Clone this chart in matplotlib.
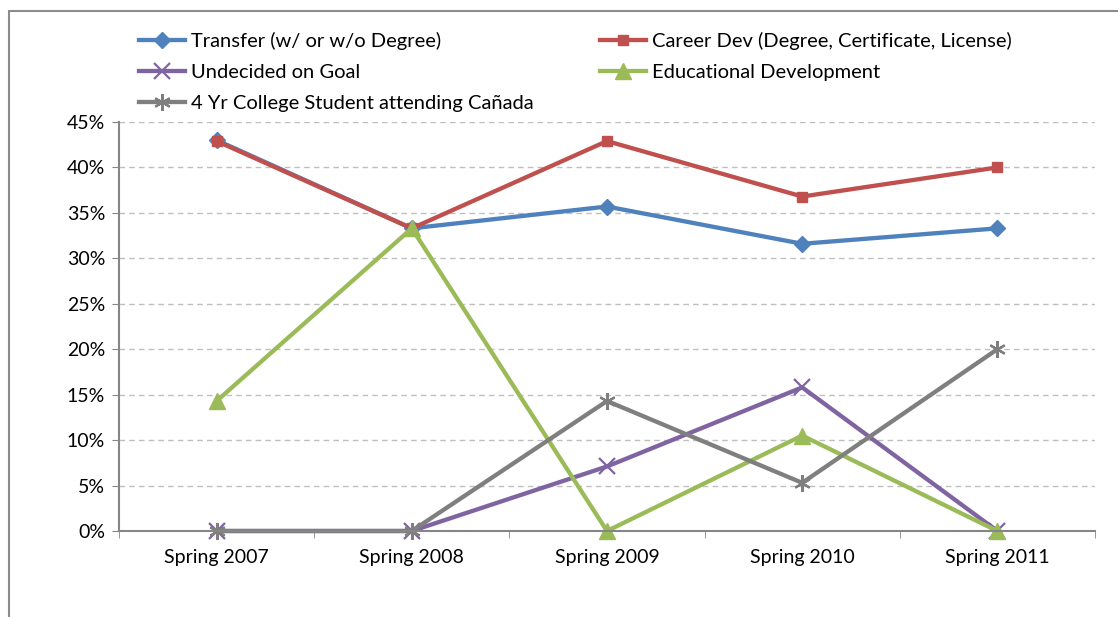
import matplotlib
matplotlib.use('Agg')
import matplotlib.pyplot as plt
from matplotlib.patches import Rectangle

plt.rcParams['font.family'] = ['Lato', 'DejaVu Sans']

terms = ['Spring 2007', 'Spring 2008', 'Spring 2009', 'Spring 2010', 'Spring 2011']
transfer = [43.0, 33.3, 35.7, 31.6, 33.3]
career = [42.9, 33.3, 42.9, 36.8, 40.0]
undecided = [0.0, 0.0, 7.1, 15.8, 0.0]
educational = [14.3, 33.3, 0.0, 10.5, 0.0]
four_year = [0.0, 0.0, 14.3, 5.3, 20.0]

labels = ['Transfer (w/ or w/o Degree)',
          'Career Dev (Degree, Certificate, License)',
          'Undecided on Goal',
          'Educational Development',
          '4 Yr College Student attending Cañada']
colors = ['#4F81BD', '#C0504D', '#8064A2', '#9BBB59', '#7F7F7F']
markers = ['D', 's', 'x', '^', (6, 2, 0)]
msizes = [8, 7, 11, 12, 12]

fig = plt.figure(figsize=(11.18, 6.17), dpi=100)
ax = fig.add_axes([119/1118, 1 - 531/617, (1095-119)/1118, (531-122)/617])

x = list(range(len(terms)))
lines = []
for vals, lab, c, m, ms in zip([transfer, career, undecided, educational, four_year],
                               labels, colors, markers, msizes):
    thin = m == 'x' or isinstance(m, tuple)
    ln, = ax.plot(x, [v / 100 for v in vals], color=c, lw=3.1, marker=m, ms=ms,
                  mew=1.6 if thin else 1, mec=c, mfc=c,
                  label=lab, clip_on=False, solid_joinstyle='miter')
    lines.append(ln)

ax.set_xlim(-0.5, 4.5)
ax.set_ylim(0, 0.45)
ax.set_yticks([i * 0.05 for i in range(10)])
ax.set_yticklabels([f'{i*5}%' for i in range(10)])
ax.set_xticks(x)
ax.set_xticklabels(terms)
ax.set_xticks([i - 0.5 for i in range(6)], minor=True)
ax.tick_params(axis='x', which='major', length=0, pad=13, labelsize=14)
ax.tick_params(axis='x', which='minor', length=5, color='#868686', direction='out')
ax.tick_params(axis='y', length=5, color='#868686', direction='out', pad=5, labelsize=14)
ax.grid(axis='y', color='#BFBFBF', ls=(0, (4, 3)), lw=1)
ax.set_axisbelow(True)
for s in ['top', 'right']:
    ax.spines[s].set_visible(False)
for s in ['left', 'bottom']:
    ax.spines[s].set_color('#868686')
    ax.spines[s].set_linewidth(1.5)

# legend in two columns, placed separately
kw = dict(frameon=False, fontsize=14.5, handlelength=2.3, handletextpad=0.3,
          labelspacing=0.68, borderaxespad=0, borderpad=0)
fig.legend([lines[0], lines[2], lines[4]], [labels[0], labels[2], labels[4]],
           loc='upper left', bbox_to_anchor=(139/1118, 1 - 32/617), **kw)
fig.legend([lines[1], lines[3]], [labels[1], labels[3]],
           loc='upper left', bbox_to_anchor=(600/1118, 1 - 32/617), **kw)

# chart frame
fig.add_artist(Rectangle((9/1118, -0.1), 1.2, 1.1 - 11/617, transform=fig.transFigure,
                         fill=False, ec='#8C8C8C', lw=1.5))

fig.savefig('out.png', dpi=100)
